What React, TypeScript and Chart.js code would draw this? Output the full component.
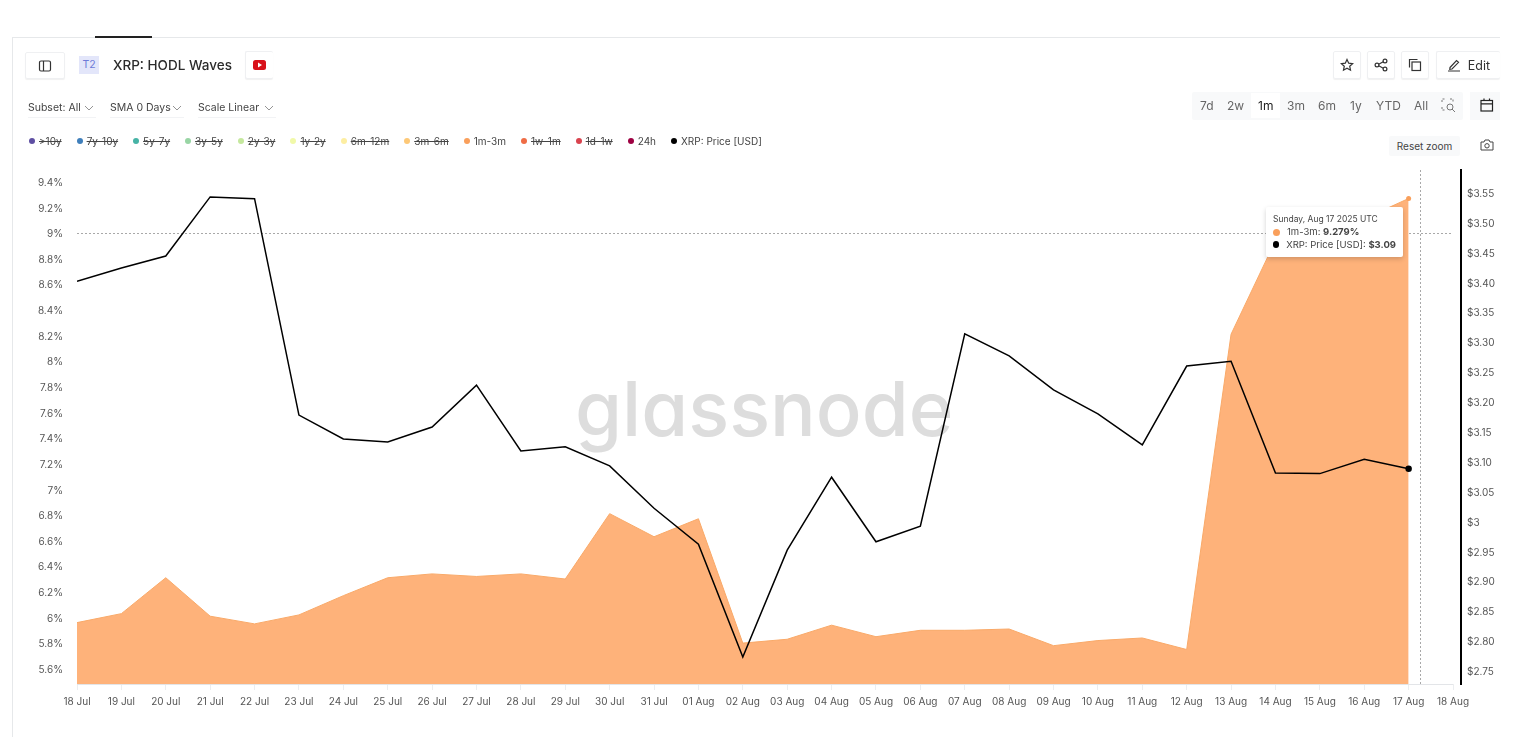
import React, { useEffect, useRef } from "react";
import { Chart, registerables } from "chart.js";

Chart.register(...registerables);

const dates = ["18 Jul","19 Jul","20 Jul","21 Jul","22 Jul","23 Jul","24 Jul","25 Jul","26 Jul","27 Jul","28 Jul","29 Jul","30 Jul","31 Jul","01 Aug","02 Aug","03 Aug","04 Aug","05 Aug","06 Aug","07 Aug","08 Aug","09 Aug","10 Aug","11 Aug","12 Aug","13 Aug","14 Aug","15 Aug","16 Aug","17 Aug","18 Aug"];
const waveValues = [5.97,6.04,6.32,6.02,5.96,6.03,6.18,6.32,6.35,6.33,6.35,6.31,6.82,6.64,6.78,5.81,5.84,5.95,5.86,5.91,5.91,5.92,5.79,5.83,5.85,5.76,8.22,8.95,9.0,9.12,9.279];
const priceValues = [3.404,3.426,3.446,3.545,3.542,3.18,3.14,3.135,3.16,3.23,3.12,3.127,3.095,3.024,2.964,2.775,2.954,3.076,2.968,2.994,3.316,3.279,3.222,3.182,3.13,3.262,3.27,3.083,3.082,3.106,3.09];
const percentTicks = [5.6,5.8,6,6.2,6.4,6.6,6.8,7,7.2,7.4,7.6,7.8,8,8.2,8.4,8.6,8.8,9,9.2,9.4];
const priceTicks = [2.75,2.8,2.85,2.9,2.95,3,3.05,3.1,3.15,3.2,3.25,3.3,3.35,3.4,3.45,3.5,3.55];
const legendNames = [">10y","7y-10y","5y-7y","3y-5y","2y-3y","1y-2y","6m-12m","3m-6m","1m-3m","1w-1m","1d-1w","24h","XRP: Price [USD]"];
const legendColors = ["#5e4fa2","#3f7fbb","#46b3a5","#98d5a4","#c5e89e","#f1f9a9","#fdeea2","#fdc877","#f99f5b","#ef6c45","#d9434e","#9e0142","#000000"];
const legendHidden = [true,true,true,true,true,true,true,true,false,true,true,false,false];
const rangeButtons = ["7d","2w","1m","3m","6m","1y","YTD","All"];
const crosshairIndex = 30.25;
const crosshairPercent = 9;

const FONT = "Inter, 'Noto Sans', sans-serif";
const iconStroke = { fill: "none", stroke: "#333", strokeWidth: 1.2 } as const;

const refLines = {
  id: "refLines",
  beforeDatasetsDraw(chart: any) {
    const { ctx, scales, chartArea } = chart;
    const x = scales.x, y = scales.yLeft;
    ctx.save();
    ctx.strokeStyle = "#e3e5e8";
    ctx.lineWidth = 1;
    ctx.beginPath();
    ctx.moveTo(x.getPixelForValue(0), chartArea.bottom + 0.5);
    ctx.lineTo(x.getPixelForValue(31), chartArea.bottom + 0.5);
    ctx.stroke();
    ctx.strokeStyle = "#a8a8a8";
    ctx.setLineDash([2, 2]);
    ctx.beginPath();
    const yy = Math.round(y.getPixelForValue(crosshairPercent)) - 0.5;
    ctx.moveTo(x.getPixelForValue(0), yy);
    ctx.lineTo(x.getPixelForValue(31), yy);
    const xx = Math.round(x.getPixelForValue(crosshairIndex)) + 0.5;
    ctx.moveTo(xx, chartArea.top);
    ctx.lineTo(xx, chartArea.bottom);
    ctx.stroke();
    ctx.restore();
  },
};

function Btn({ left, top, w, h, children, noRight }: any) {
  return (
    <div style={{ position: "absolute", left, top, width: w, height: h, background: "#fff", border: "1px solid #eff0f2", borderRight: noRight ? "none" : "1px solid #eff0f2", borderRadius: 2, boxShadow: "0 1px 1px rgba(0,0,0,0.06)", display: "flex", alignItems: "center", justifyContent: "center", boxSizing: "border-box", fontSize: 12.5, color: "#333" }}>
      {children}
    </div>
  );
}

function Select({ left, width, label }: any) {
  return (
    <div style={{ position: "absolute", left, top: 98, width, height: 19, borderBottom: "1px solid #f2f3f5", fontSize: 10.5, color: "#444", lineHeight: "19px" }}>
      {label}
      <svg width="10" height="6" style={{ position: "absolute", right: 2, top: 7 }}><path d="M1 1 L5 5 L9 1" fill="none" stroke="#888" strokeWidth="0.9" /></svg>
    </div>
  );
}

export default function App() {
  const ref = useRef<HTMLCanvasElement>(null);
  useEffect(() => {
    const chart = new Chart(ref.current as HTMLCanvasElement, {
      type: "line",
      plugins: [refLines],
      data: {
        datasets: [
          {
            label: "XRP: Price [USD]",
            data: priceValues.map((v, i) => ({ x: i, y: v })),
            yAxisID: "yRight",
            borderColor: "#000",
            backgroundColor: "#000",
            borderWidth: 1.5,
            tension: 0,
            pointRadius: (c: any) => (c.dataIndex === priceValues.length - 1 ? 2.5 : 0),
            order: 1,
          },
          {
            label: "1m-3m",
            data: waveValues.map((v, i) => ({ x: i, y: v })),
            yAxisID: "yLeft",
            borderColor: "#f9a968",
            backgroundColor: "#feb27a",
            pointBackgroundColor: "#f99f5b",
            pointBorderWidth: 0,
            borderWidth: 1,
            fill: "start",
            tension: 0,
            pointRadius: (c: any) => (c.dataIndex === waveValues.length - 1 ? 2.5 : 0),
            order: 2,
          },
        ],
      } as any,
      options: {
        animation: false,
        responsive: false,
        events: [],
        layout: { padding: { top: 170, left: 0, right: 0, bottom: 0 } },
        plugins: { legend: { display: false }, tooltip: { enabled: false } },
        scales: {
          x: {
            type: "linear",
            min: 0,
            max: 31.18,
            afterFit: (s: any) => { s.height = 64; },
            afterBuildTicks: (s: any) => { s.ticks = dates.map((_, i) => ({ value: i })); },
            grid: { drawOnChartArea: false, color: "#eceef0", tickLength: 6 },
            border: { display: false },
            ticks: {
              autoSkip: false,
              maxRotation: 0,
              padding: 6,
              color: "#555",
              font: { family: FONT, size: 10 },
              callback: (v: any) => dates[v],
            },
          },
          yLeft: {
            type: "linear",
            position: "left",
            min: 5.491,
            max: 9.501,
            afterFit: (s: any) => { s.width = 77; },
            afterBuildTicks: (s: any) => { s.ticks = percentTicks.map((value) => ({ value })); },
            grid: { display: false },
            border: { display: false },
            ticks: {
              padding: 6,
              color: "#555",
              font: { family: FONT, size: 10 },
              callback: (v: any) => `${Number(Number(v).toFixed(1))}%`,
            },
          },
          yRight: {
            type: "linear",
            position: "right",
            min: 2.73,
            max: 3.59,
            afterFit: (s: any) => { s.width = 73; },
            afterBuildTicks: (s: any) => { s.ticks = priceTicks.map((value) => ({ value })); },
            grid: { display: false, drawTicks: false },
            border: { display: true, color: "#000", width: 2 },
            ticks: {
              padding: 6,
              align: "center",
              color: "#555",
              font: { family: FONT, size: 10 },
              callback: (v: any) => (Number(v) === 3 ? "$3" : `$${Number(v).toFixed(2)}`),
            },
          },
        },
      } as any,
    });
    return () => chart.destroy();
  }, []);

  return (
    <div style={{ position: "absolute", left: 0, top: 0, width: 1534, height: 748, overflow: "hidden", background: "#fff", fontFamily: FONT }}>
      {/* card frame */}
      <div style={{ position: "absolute", left: 12, top: 37, width: 1488, height: 700, borderTop: "1px solid #e6e8ea", borderLeft: "1px solid #e6e8ea", boxSizing: "border-box" }} />
      <div style={{ position: "absolute", left: 95, top: 36, width: 57, height: 2, background: "#222" }} />

      {/* watermark, under the chart */}
      <div style={{ position: "absolute", left: 575, top: 362, fontSize: 76, fontWeight: 500, lineHeight: "93px", color: "#dddddd", fontFeatureSettings: "'cv11'", fontFamily: "Inter, sans-serif", whiteSpace: "nowrap" }}>glassnode</div>

      <canvas ref={ref} width={1534} height={748} style={{ position: "absolute", left: 0, top: 0, display: "block" }} />

      {/* header */}
      <Btn left={25} top={52} w={40} h={27}>
        <svg width="14" height="14" {...iconStroke}><rect x="1.5" y="2" width="11" height="10" rx="1.5" /><path d="M5.5 2 V12" /></svg>
      </Btn>
      <div style={{ position: "absolute", left: 79, top: 56, width: 20, height: 18, background: "#e3e6fa", color: "#6f7bd8", fontSize: 10.5, lineHeight: "18px", textAlign: "center" }}>T2</div>
      <div style={{ position: "absolute", left: 113, top: 55, fontSize: 13.5, fontWeight: 500, color: "#2b2b2b", lineHeight: "20px" }}>XRP: HODL Waves</div>
      <Btn left={245} top={51} w={28} h={28} noRight>
        <svg width="13" height="10"><rect width="13" height="10" rx="2.5" fill="#d8111a" /><path d="M5 2.5 L9 5 L5 7.5 Z" fill="#fff" /></svg>
      </Btn>
      <Select left={28} width={68} label="Subset: All" />
      <Select left={110} width={74} label="SMA 0 Days" />
      <Select left={198} width={78} label="Scale Linear" />

      <Btn left={1333} top={51} w={28} h={28}>
        <svg width="14" height="14" {...iconStroke}><path d="M7 1.5 L8.7 5.2 L12.6 5.6 L9.7 8.2 L10.5 12.2 L7 10.2 L3.5 12.2 L4.3 8.2 L1.4 5.6 L5.3 5.2 Z" /></svg>
      </Btn>
      <Btn left={1367} top={51} w={28} h={28}>
        <svg width="14" height="14" {...iconStroke}><circle cx="3" cy="7" r="1.9" /><circle cx="11" cy="3" r="1.9" /><circle cx="11" cy="11" r="1.9" /><path d="M4.7 6.2 L9.3 3.8 M4.7 7.8 L9.3 10.2" /></svg>
      </Btn>
      <Btn left={1401} top={51} w={28} h={28}>
        <svg width="14" height="14" {...iconStroke}><rect x="4" y="4" width="8.5" height="8.5" /><path d="M1.5 9.5 V1.5 H9.5" /></svg>
      </Btn>
      <Btn left={1436} top={51} w={64} h={28} noRight>
        <svg width="14" height="14" {...iconStroke} style={{ marginRight: 7 }}><path d="M3 9.5 L9.5 2.5 L11.5 4.3 L5 11 L2.8 11.3 Z M1 13 H13" /></svg>
        Edit
      </Btn>

      {/* range selector */}
      <div style={{ position: "absolute", left: 1192, top: 92, width: 271, height: 28, background: "#f8f9fa", borderRadius: 2 }} />
      <div style={{ position: "absolute", left: 1251, top: 93, width: 29, height: 25, background: "#fff" }} />
      {rangeButtons.map((b, i) => (
        <div key={b} style={{ position: "absolute", left: [1200, 1227, 1258, 1287, 1318, 1350, 1376, 1414][i], top: 97, fontSize: 12, lineHeight: "18px", color: b === "1m" ? "#222" : "#666" }}>{b}</div>
      ))}
      <svg width="16" height="16" style={{ position: "absolute", left: 1441, top: 98 }} fill="none" stroke="#777" strokeWidth="1"><path d="M1 4 V1 H4 M9 1 H12 V4 M1 9 V12 H4" strokeDasharray="2 1.5" /><circle cx="9" cy="9" r="3" /><path d="M11 11 L14 14" /></svg>
      <div style={{ position: "absolute", left: 1470, top: 92, width: 30, height: 28, background: "#f8f9fa" }} />
      <svg width="14" height="14" style={{ position: "absolute", left: 1480, top: 98 }} fill="none" stroke="#222" strokeWidth="1.2"><rect x="1" y="2.5" width="11.5" height="10.5" /><path d="M1 5.8 H12.5 M4 0.5 V3 M9.5 0.5 V3" /></svg>

      <div style={{ position: "absolute", left: 1389, top: 136, width: 71, height: 20, background: "#f8f9fa", borderRadius: 2, fontSize: 10, color: "#444", lineHeight: "20px", textAlign: "center" }}>Reset zoom</div>
      <svg width="14" height="12" style={{ position: "absolute", left: 1480, top: 139 }} fill="none" stroke="#444" strokeWidth="1"><path d="M1 3 H4 L5 1 H9 L10 3 H13 V11 H1 Z" /><circle cx="7" cy="6.8" r="2.2" /></svg>

      {/* legend */}
      <div style={{ position: "absolute", left: 29, top: 134, display: "flex", gap: 15, fontSize: 10, lineHeight: "14px", color: "#444", whiteSpace: "nowrap" }}>
        {legendNames.map((n, i) => (
          <div key={n} style={{ display: "flex", alignItems: "center", gap: 4 }}>
            <span style={{ width: 6, height: 6, borderRadius: 3, background: legendColors[i], display: "inline-block" }} />
            <span style={{ textDecoration: legendHidden[i] ? "line-through" : "none" }}>{n}</span>
          </div>
        ))}
      </div>

      {/* tooltip */}
      <div style={{ position: "absolute", left: 1266, top: 207, width: 137, height: 50, background: "#fff", borderRadius: 2, boxShadow: "0 2px 5px rgba(0,0,0,0.18)", boxSizing: "border-box", padding: "7px 7px", color: "#444" }}>
        <div style={{ fontSize: 8.5, lineHeight: "11px" }}>Sunday, Aug 17 2025 UTC</div>
        <div style={{ fontSize: 9.5, lineHeight: "12.5px", whiteSpace: "nowrap", display: "flex", alignItems: "center", gap: 7, marginTop: 1 }}>
          <span style={{ width: 7, height: 7, borderRadius: 4, background: legendColors[8] }} />
          <span>1m-3m: <b>9.279%</b></span>
        </div>
        <div style={{ fontSize: 9.5, lineHeight: "12.5px", whiteSpace: "nowrap", display: "flex", alignItems: "center", gap: 7 }}>
          <span style={{ width: 7, height: 7, borderRadius: 4, background: "#000" }} />
          <span>XRP: Price [USD]: <b>$3.09</b></span>
        </div>
      </div>
    </div>
  );
}
